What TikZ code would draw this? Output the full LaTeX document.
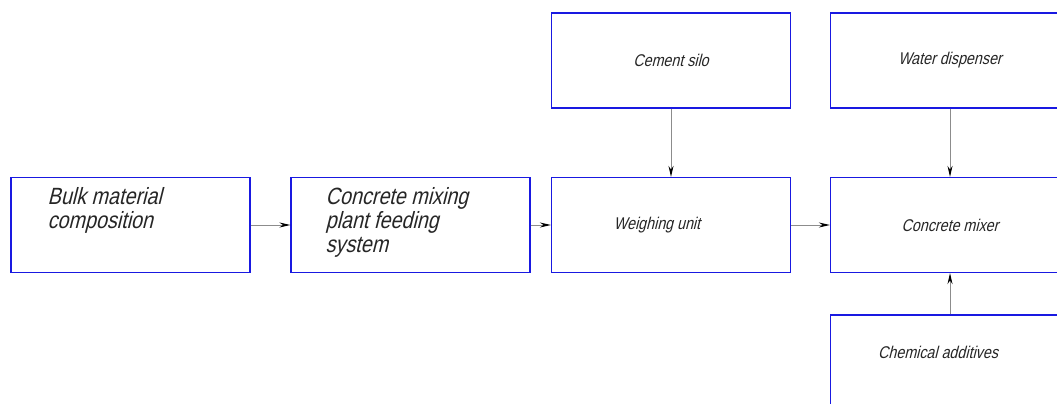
\documentclass[tikz,border=0pt]{standalone}
\usepackage{fontspec}
\setmainfont{Liberation Sans}[FakeSlant=0.25, FakeStretch=0.84]
\usetikzlibrary{arrows.meta, positioning}
\definecolor{frame}{RGB}{25,25,225}
\definecolor{wire}{RGB}{140,140,140}
\tikzset{
  blk/.style={draw=frame, line width=1.2pt, minimum width=239pt, minimum height=95pt,
    inner sep=0, text=black!85, font=\fontsize{17}{21}\selectfont},
  bigtxt/.style={inner sep=0, align=left, anchor=north west, text=black!85,
    font=\fontsize{23.5}{24}\selectfont},
  flow/.style={draw=wire, line width=1pt, -{Stealth[length=11pt, width=5pt, color=black]}},
}

\begin{document}
\begin{tikzpicture}[x=1pt, y=-1pt]
     \clip (0,0) rectangle (1057,404);

     % main line
     \node [blk] (bulk)  at (130.5, 225) {};
     \node [blk] (feed)  at (410.5, 225) {};
     \node [blk] (weigh) at (671, 225) {};
     \node [blk] (mixer) at (950, 225) {Concrete mixer};

     % suppliers
     \node [blk] (silo)  at (671, 60.5) {Cement silo};
     \node [blk] (water) at (950, 60.5) {Water dispenser};
     \node [blk] (chem)  at (950, 362.5) {};

     % texts
     \node [text=black!85, font=\fontsize{17}{21}\selectfont] (weightxt) at (657, 225) {Weighing unit};
     \node [text=black!85, font=\fontsize{17}{21}\selectfont] (chemtxt) at (938, 352) {Chemical additives};
     \node [bigtxt] (bulktxt) at ([shift={(37, 10)}]bulk.north west) {Bulk material\\composition};
     \node [bigtxt] (feedtxt) at ([shift={(35, 10)}]feed.north west) {Concrete mixing\\plant feeding\\system};

     \draw [flow] (bulk) -- (feed);
     \draw [flow] (feed) -- (weigh);
     \draw [flow] (weigh) -- (mixer);
     \draw [flow] (silo) -- (weigh);
     \draw [flow] (water) -- (mixer);
     \draw [flow] (chem) -- (mixer);
    \end{tikzpicture}
\end{document}
